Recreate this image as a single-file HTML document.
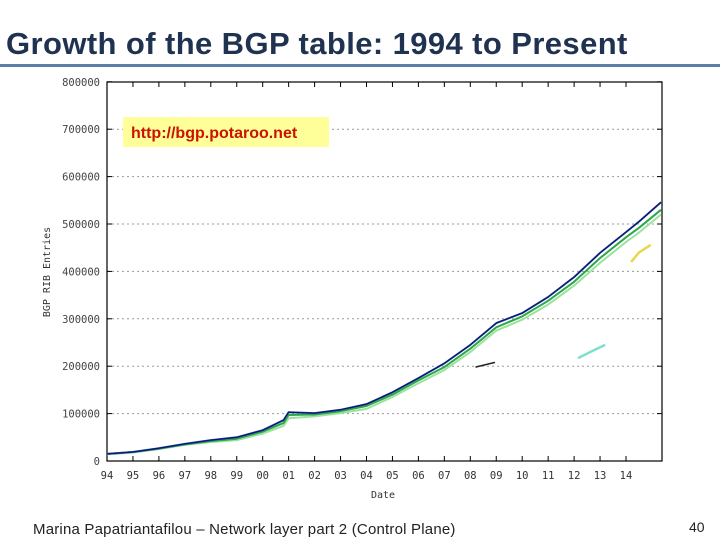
<!DOCTYPE html>
<html><head><meta charset="utf-8"><style>
body{margin:0;width:720px;height:540px;background:#fff;overflow:hidden;position:relative;font-family:"Liberation Sans",sans-serif}
.title{position:absolute;left:6px;top:26px;font-size:31px;line-height:36px;font-weight:bold;color:#1f3350;white-space:nowrap;letter-spacing:0.4px}
.rule{position:absolute;left:0;top:64px;width:720px;height:3px;background:#5b7fa6}
.foot{position:absolute;left:33px;top:521px;font-size:15px;color:#222;white-space:nowrap;letter-spacing:0.2px}
.pg{position:absolute;left:689px;top:519px;font-size:14px;color:#222}
svg{position:absolute;left:0;top:0}
</style></head><body>
<div class="title">Growth of the BGP table: 1994 to Present</div>
<div class="rule"></div>
<svg id="c" width="720" height="540"></svg>
<div class="foot">Marina Papatriantafilou –  Network layer part 2 (Control Plane)</div>
<div class="pg">40</div>
<script>
const yTicks=[0,100000,200000,300000,400000,500000,600000,700000,800000];
const xTickLabels=["94","95","96","97","98","99","00","01","02","03","04","05","06","07","08","09","10","11","12","13","14"];
const years=[1994,1995,1996,1997,1998,1999,2000,2000.8,2001,2002,2003,2004,2005,2006,2007,2008,2009,2010,2011,2012,2013,2014,2014.5,2015.35];
const mainVals=[15000,19000,27000,36000,44000,50000,65000,86000,103000,101000,108000,120000,145000,175000,206000,245000,291000,312000,346000,388000,439000,483000,505000,546000];
const greenVals=[15000,19000,26000,35000,42000,47000,62000,80000,97000,98000,105000,116000,140000,170000,198000,237000,282000,305000,338000,378000,428000,472000,492000,530000];
const lightVals=[14000,18000,25000,34000,40000,44000,58000,74000,90000,94000,101000,110000,135000,164000,192000,230000,275000,298000,330000,370000,418000,462000,482000,520000];
const cyanYears=[2012.15,2012.7,2013.2];const cyanVals=[217000,232000,245000];
const yellowYears=[2014.2,2014.5,2014.95];const yellowVals=[420000,440000,456000];
const blackYears=[2008.2,2008.95];const blackVals=[198000,208000];
const X0=107,PX=25.95,Y0=461,PY=47.4/100000;
const sx=y=>X0+(y-1994)*PX, sy=v=>Y0-v*PY;
const svg=document.getElementById('c');const NS='http://www.w3.org/2000/svg';
function mk(t,a){const e=document.createElementNS(NS,t);for(const k in a)e.setAttribute(k,a[k]);svg.appendChild(e);return e;}
const L=107,R=662,T=82,B=461;
yTicks.forEach(v=>{const y=sy(v);
 if(v>0&&v<800000){const g=mk('line',{x1:L,x2:R,y1:y,y2:y,stroke:'#999','stroke-dasharray':'2,3','stroke-width':1});
 
 }
 const t=mk('text',{x:100,y:y+4,'text-anchor':'end','font-size':10.5,'font-family':'DejaVu Sans Mono,monospace',fill:'#444'});t.textContent=v;
 
 
 mk('line',{x1:L,x2:L+5,y1:y,y2:y,stroke:'#000'});mk('line',{x1:R,x2:R-5,y1:y,y2:y,stroke:'#000'});
});
xTickLabels.forEach((l,i)=>{const x=sx(1994+i);
 mk('line',{x1:x,x2:x,y1:B,y2:B-5,stroke:'#000'});mk('line',{x1:x,x2:x,y1:T,y2:T+5,stroke:'#000'});
 const t=mk('text',{x:x,y:479,'text-anchor':'middle','font-size':10.5,'font-family':'DejaVu Sans Mono,monospace',fill:'#333'});t.textContent=l;
 
 
});
const fr=mk('rect',{x:L,y:T,width:R-L,height:B-T,fill:'none',stroke:'#000','stroke-width':1.2});


function line(xs,vs,col,w,name){const p=xs.map((x,i)=>sx(x).toFixed(1)+','+sy(vs[i]).toFixed(1)).join(' ');
 const e=mk('polyline',{points:p,fill:'none',stroke:col,'stroke-width':w,'stroke-linejoin':'round'});
 
 }
line(years,lightVals,'#9be29b',2,'series-light-green');
line(years,greenVals,'#2aa84a',2,'series-green');
line(years,mainVals,'#3a55c8',2,'series-blue');
line(years,mainVals,'#0a1a60',1.3,'series-navy');
line(cyanYears,cyanVals,'#7fe0d0',2.5,'series-cyan');
line(yellowYears,yellowVals,'#e8d84a',2.5,'series-yellow');
line(blackYears,blackVals,'#222',1.5,'series-black');
const yt=mk('text',{x:50,y:272,'text-anchor':'middle','font-size':10,'font-family':'DejaVu Sans Mono,monospace',fill:'#333',transform:'rotate(-90 50 272)'});yt.textContent='BGP RIB Entries';


const xt=mk('text',{x:383,y:498,'text-anchor':'middle','font-size':10,'font-family':'DejaVu Sans Mono,monospace',fill:'#333'});xt.textContent='Date';


const bx=mk('rect',{x:123,y:117,width:206,height:30,fill:'#ffff99'});


const st=mk('text',{x:131,y:138,'font-size':16,'font-weight':'bold','font-family':'Liberation Sans,sans-serif',fill:'#cc1100'});st.textContent='http://bgp.potaroo.net';


</script>
</body></html>
